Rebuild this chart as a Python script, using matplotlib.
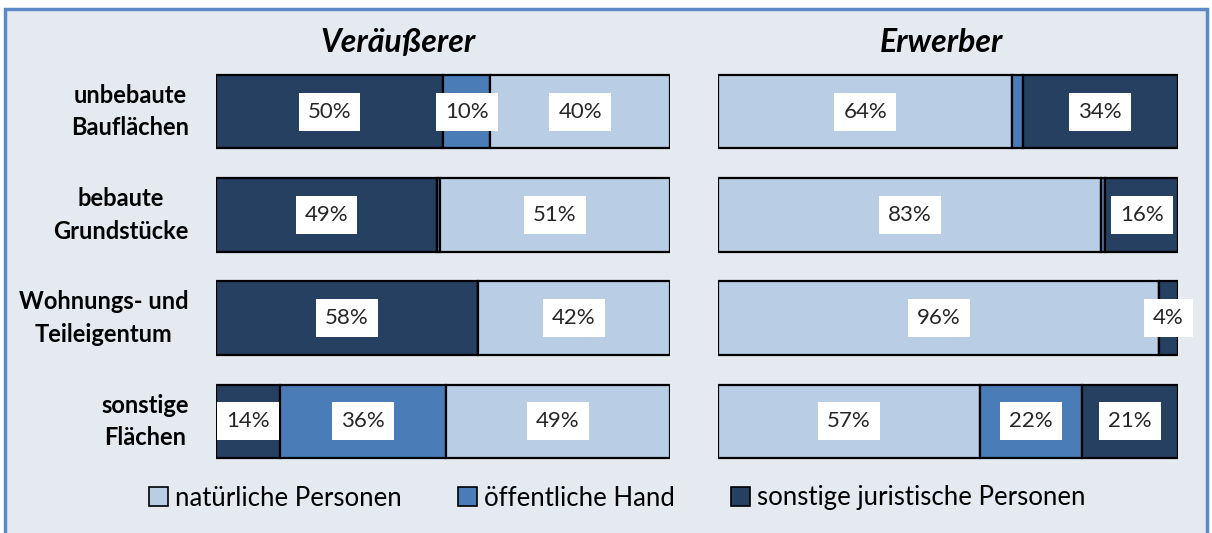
import numpy as np
import matplotlib.pyplot as plt
from matplotlib.patches import Rectangle, Patch

plt.rcParams['font.family'] = ['Lato', 'DejaVu Sans']

categories = ["unbebaute\nBauflächen", "bebaute\nGrundstücke",
              "Wohnungs- und\nTeileigentum", "sonstige\nFlächen"]
groups = ["natürliche Personen", "öffentliche Hand", "sonstige juristische Personen"]

# Veräußerer (percent)
v_nat = np.array([39.6, 50.7, 42.3, 49.4])
v_oeff = np.array([10.4, 0.6, 0.0, 36.4])
v_sonst = np.array([50.0, 48.7, 57.7, 14.2])

# Erwerber (percent)
e_nat = np.array([64.0, 83.3, 95.9, 57.0])
e_oeff = np.array([2.2, 0.9, 0.0, 22.2])
e_sonst = np.array([33.8, 15.8, 4.1, 20.8])

c_nat = "#B9CDE5"
c_oeff = "#4A7DB8"
c_sonst = "#254061"
bg = "#E5EAF0"

W, H = 1212, 533
fig = plt.figure(figsize=(W / 100, H / 100), dpi=100)
fig.patch.set_facecolor("white")
fig.patches.append(Rectangle((5 / W, -0.05), 1202 / W, 1.05 - 9 / H, transform=fig.transFigure,
                             facecolor=bg, edgecolor="#5B8AC6", linewidth=2.5, zorder=-5))

ax_bottom = (H - 473) / H
ax_h = 413 / H
axL = fig.add_axes([216 / W, ax_bottom, 454 / W, ax_h])
axR = fig.add_axes([718 / W, ax_bottom, 460 / W, ax_h])

y = np.arange(len(categories))


def stacked(ax, parts):
    left = np.zeros(len(categories))
    for vals, col in parts:
        bars = ax.barh(y, vals, left=left, height=0.71, color=col,
                       edgecolor="black", linewidth=1.6)
        for b, v in zip(bars, vals):
            if v >= 3:
                ax.text(b.get_x() + b.get_width() / 2, b.get_y() + b.get_height() / 2,
                        f"{v:.0f}%", ha="center", va="center", fontsize=16, color="#262626",
                        bbox=dict(facecolor="white", edgecolor="none", pad=6.5))
        left = left + vals
    ax.set_xlim(0, 100)
    ax.set_ylim(3.5, -0.5)
    ax.axis("off")


stacked(axL, [(v_sonst, c_sonst), (v_oeff, c_oeff), (v_nat, c_nat)])
stacked(axR, [(e_nat, c_nat), (e_oeff, c_oeff), (e_sonst, c_sonst)])

for i, cat in enumerate(categories):
    axL.text(-0.06, i, cat, transform=axL.get_yaxis_transform(), ha="right", va="center",
             multialignment="center", fontsize=17, fontweight="bold", color="black",
             linespacing=1.5)

fig.text(398 / W, 1 - 42 / H, "Veräußerer", ha="center", va="center",
         fontsize=23, fontweight="bold", style="italic")
fig.text(941 / W, 1 - 42 / H, "Erwerber", ha="center", va="center",
         fontsize=23, fontweight="bold", style="italic")

handles = [Patch(facecolor=c, edgecolor="black", linewidth=1.2) for c in (c_nat, c_oeff, c_sonst)]
fig.legend(handles, groups, loc="center", bbox_to_anchor=(617 / W, 1 - 498 / H), ncol=3,
           frameon=False, fontsize=18.5, handlelength=0.75, handleheight=0.75,
           handletextpad=0.25, columnspacing=2.2)

fig.savefig("out.png", dpi=100, facecolor="white")
